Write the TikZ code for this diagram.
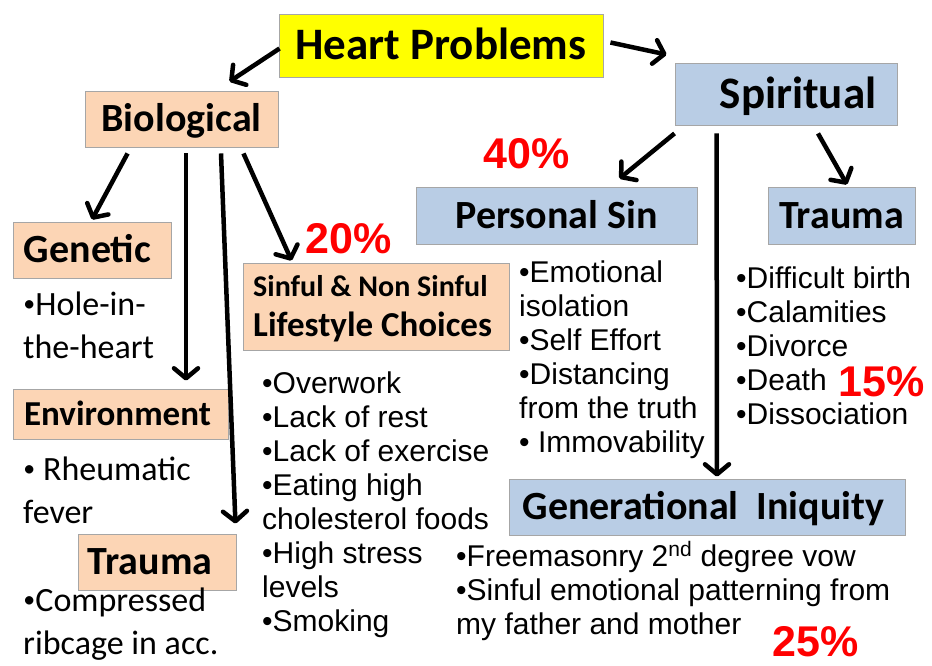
\documentclass[tikz,border=0pt]{standalone}
\usepackage{graphicx}
\usepackage{fontspec}
\setmainfont{Carlito}
\newfontfamily\arialf{Liberation Sans}
\usetikzlibrary{arrows.meta}
\definecolor{hpyellow}{HTML}{FFFF00}
\definecolor{peach}{HTML}{FCD5B5}
\definecolor{skyb}{HTML}{B9CDE5}
\definecolor{bordr}{HTML}{A6A6A6}
\definecolor{pcred}{HTML}{FF0000}
\newcommand\cbul{\makebox[0.36em][c]{\raisebox{0.1em}{\scalebox{0.7}{•}}}}
\begin{document}
\begin{tikzpicture}[x=1pt,y=-1pt,
  box/.style={draw=bordr, line width=0.9pt, inner sep=0pt, text depth=0pt},
  hbig/.style={font=\bfseries\fontsize{45}{54}\selectfont, text height=28.4pt},
  hmid/.style={font=\bfseries\fontsize{40}{48}\selectfont, text height=25.3pt},
  hsml/.style={font=\bfseries\fontsize{35}{42}\selectfont, text height=22.1pt},
  conn/.style={line width=4.5pt, -{Straight Barb[length=10pt,width=24pt,round]}},
  pct/.style={anchor=base west, inner sep=0pt, text=pcred, font=\arialf\bfseries\fontsize{43}{50}\selectfont},
  arl/.style={anchor=base west, inner sep=0pt, font=\arialf\fontsize{30}{34}\selectfont},
  cal/.style={anchor=base west, inner sep=0pt, font=\fontsize{34}{43}\selectfont},
  ]
\fill[white] (0,0) rectangle (932,666);
\useasboundingbox (0,0) rectangle (932,666);

% boxes
\node[box, hbig, fill=hpyellow, minimum width=324pt, minimum height=63pt] (heart) at (441,45.5) {Heart Problems};
\node[box, hbig, fill=skyb, minimum width=222pt, minimum height=62pt] (spirit) at (786,94) {\hspace*{24pt}Spiritual};
\node[box, hmid, fill=peach, minimum width=193pt, minimum height=56pt] (bio) at (181.5,119) {Biological};
\node[box, hmid, fill=skyb, minimum width=281pt, minimum height=57pt] (psin) at (556.5,215.5) {Personal Sin};
\node[box, hmid, fill=skyb, minimum width=147pt, minimum height=57pt] (trR) at (841.5,215.5) {Trauma};
\node[box, hmid, fill=peach, minimum width=158pt, minimum height=56pt] (gen) at (92,250) {Genetic\hspace*{9pt}};
\node[box, fill=peach, minimum width=266pt, minimum height=87pt] (life) at (376,306.5) {};
\node[box, hsml, fill=peach, minimum width=215pt, minimum height=50pt] (env) at (120.5,414) {Environment\hspace*{6pt}};
\node[box, hmid, fill=skyb, minimum width=396pt, minimum height=56pt] (geniq) at (707,507) {Generational\ \ Iniquity\hspace*{7pt}};
\node[box, hmid, fill=peach, minimum width=158pt, minimum height=56pt] (trL) at (157,562) {Trauma\hspace*{14pt}};

% text inside lifestyle box
\node[anchor=base west, inner sep=0pt] (lifetxt) at (253,296) {\vtop{\baselineskip=40pt
  \hbox{\bfseries\fontsize{30}{36}\selectfont Sinful \& Non Sinful}
  \hbox{\bfseries\fontsize{35}{42}\selectfont Lifestyle Choices}}};

% connectors
\draw[conn] ([shift={(1,3)}]heart.west) -- ([shift={(48,-9)}]bio.north);
\draw[conn] ([shift={(7,-3)}]heart.east) -- ([shift={(-8,-8)}]spirit.north west);
\draw[conn] ([shift={(43,6)}]bio.south west) -- ([shift={(0,-2)}]gen.north);
\draw[conn] ([shift={(4.5,6)}]bio.south) -- ([shift={(65.5,-8)}]env.north);
\draw[conn] ([shift={(39.5,6)}]bio.south) -- ([shift={(-1,-10)}]trL.north east);
\draw[conn] ([shift={(-35,6)}]bio.south east) -- ([shift={(49,-2)}]life.north west);
\draw[conn] ([shift={(0,8)}]spirit.south west) -- ([shift={(-78,-8)}]psin.north east);
\draw[conn] ([shift={(42,8)}]spirit.south west) -- ([shift={(10,-2)}]geniq.north);
\draw[conn] ([shift={(32,8)}]spirit.south) -- ([shift={(5.5,-2)}]trR.north);

% bullet texts
\node[cal] (gentxt) at (23,315) {\vtop{\hbox{\cbul Hole-in-}\hbox{the-heart}}};
\node[cal] (envtxt) at (23,480) {\vtop{\hbox{\cbul\ Rheumatic}\hbox{fever}}};
\node[cal] (trLtxt) at (23,611) {\vtop{\hbox{\cbul Compressed}\hbox{ribcage in acc.}}};
\node[arl] (lifelist) at (262,393) {\vtop{\hbox{•Overwork}\hbox{•Lack of rest}\hbox{•Lack of exercise}\hbox{•Eating high}\hbox{cholesterol foods}\hbox{•High stress}\hbox{levels}\hbox{•Smoking}}};
\node[arl] (psinlist) at (519,282) {\vtop{\hbox{•Emotional}\hbox{isolation}\hbox{•Self Effort}\hbox{•Distancing}\hbox{from the truth}\hbox{• Immovability}}};
\node[arl] (trRlist) at (736,288) {\vtop{\hbox{•Difficult birth}\hbox{•Calamities}\hbox{•Divorce}\hbox{•Death}\hbox{•Dissociation}}};
\node[arl] (genlist) at (456,566) {\vtop{\hbox{•Freemasonry 2\textsuperscript{nd} degree vow}\hbox{•Sinful emotional patterning from}\hbox{my father and mother}}};

% percentages
\node[pct] (p40) at (483,168) {40\%};
\node[pct] (p20) at (305,253) {20\%};
\node[pct] (p15) at (838,396) {15\%};
\node[pct] (p25) at (772,656) {25\%};
\end{tikzpicture}
\end{document}
